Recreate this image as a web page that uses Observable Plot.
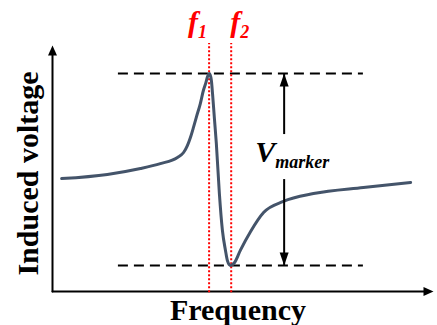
<!DOCTYPE html>
<html><head><meta charset="utf-8">
<script src="https://cdn.jsdelivr.net/npm/d3@7"></script>
<script src="https://cdn.jsdelivr.net/npm/@observablehq/plot@0.6"></script>
<style>body{margin:0;background:#fff}</style>
</head><body><div id="chart"></div>
<script>
// Resonance curve (arbitrary units)
const frequency = [2.4, 14.4, 23.1, 28.3, 32.8, 34.4, 35.4, 36.2, 37.0, 37.8, 38.8, 39.6, 40.2, 40.7, 41.2, 41.7, 42.0, 42.5, 43.0, 43.8, 44.6, 45.4, 45.9, 46.7, 47.8, 49.3, 52.0, 55.4, 60.6, 68.5, 81.6, 94.0];
const voltage   = [45.9, 47.6, 50.0, 52.0, 54.5, 56.5, 59.3, 62.6, 66.7, 71.1, 76.4, 81.7, 84.6, 87.4, 88.6, 85.8, 80.5, 70.3, 60.2, 39.8, 24.8, 16.7, 12.6, 10.6, 11.8, 16.7, 24.4, 32.1, 36.6, 39.8, 42.3, 44.3];
// reference levels (peak / dip) and their horizontal extent
const levels = [88.6, 10.6];
const levelSpan = [17.3, 81.6];
// marker frequencies f1, f2
const markerFreqs = [41.1, 46.9];
const markerSubs = ["1", "2"];
const markerSpan = [-0.5, 100.8];
// V_marker arrow
const vMarkerF = 60.8;
const vMarkerGap = [63.8, 45.5];
// axes extent
const axisMax = [100, 100];
const xLabel = "Frequency";
const yLabel = "Induced voltage";

const curve = frequency.map((f, i) => ({f, v: voltage[i]}));
const serif = "'Liberation Serif','Times New Roman',serif";

const headAxis = {draw(c) { c.moveTo(0, 0); c.lineTo(-4.5, 10); c.lineTo(4.5, 10); c.closePath(); }};
const headV = {draw(c) { c.moveTo(0, 0); c.lineTo(-4.5, 13); c.lineTo(4.5, 13); c.closePath(); }};
const T = (o) => ({fontFamily: serif, fontWeight: "bold", ...o});

const plot = Plot.plot({
  width: 437, height: 325,
  marginLeft: 52, marginRight: 4, marginTop: 45, marginBottom: 34,
  x: {domain: [0, axisMax[0]], axis: null},
  y: {domain: [0, axisMax[1]], axis: null},
  style: {fontFamily: serif, background: "#fff", overflow: "visible"},
  marks: [
    // axes
    Plot.line([[0, 0], [0, axisMax[1] - 2]], {stroke: "#000", strokeWidth: 2}),
    Plot.line([[0, 0], [axisMax[0] - 2, 0]], {stroke: "#000", strokeWidth: 2}),
    Plot.dot([[0, axisMax[1]]], {symbol: headAxis, fill: "#000", stroke: null, r: 4}),
    Plot.dot([[axisMax[0], 0]], {symbol: headAxis, fill: "#000", stroke: null, r: 4, rotate: 90}),
    // dashed levels
    Plot.ruleY(levels, {x1: levelSpan[0], x2: levelSpan[1], stroke: "#000", strokeWidth: 2, strokeDasharray: "10,6"}),
    // red dotted marker lines
    Plot.ruleX(markerFreqs, {y1: markerSpan[0], y2: markerSpan[1], stroke: "#ff0000", strokeWidth: 2, strokeDasharray: "2,2"}),
    // curve
    Plot.line(curve, {x: "f", y: "v", curve: "monotone-x", stroke: "#44546a", strokeWidth: 3}),
    // V_marker double arrow
    Plot.ruleX([vMarkerF], {y1: levels[0], y2: vMarkerGap[0], stroke: "#000", strokeWidth: 2}),
    Plot.ruleX([vMarkerF], {y1: vMarkerGap[1], y2: levels[1], stroke: "#000", strokeWidth: 2}),
    Plot.dot([[vMarkerF, levels[0]]], {symbol: headV, fill: "#000", stroke: null, r: 4}),
    Plot.dot([[vMarkerF, levels[1]]], {symbol: headV, fill: "#000", stroke: null, r: 4, rotate: 180}),
    Plot.text(["V"], T({x: vMarkerF, y: (levels[0] + levels[1]) / 2, textAnchor: "end", lineAnchor: "bottom", dx: -9, dy: -7, fontSize: 30, fontStyle: "italic", fill: "#000"})),
    Plot.text(["marker"], T({x: vMarkerF, y: (levels[0] + levels[1]) / 2, textAnchor: "start", lineAnchor: "bottom", dx: -9, dy: -1, fontSize: 18, fontStyle: "italic", fill: "#000"})),
    // f1 label
    Plot.text(["f"], T({x: markerFreqs[0], frameAnchor: "top", textAnchor: "end", lineAnchor: "bottom", dx: -11, dy: -14, fontSize: 30, fontStyle: "italic", fill: "#ff0000"})),
    Plot.text([markerSubs[0]], T({x: markerFreqs[0], frameAnchor: "top", textAnchor: "start", lineAnchor: "bottom", dx: -11, dy: -8, fontSize: 18, fontStyle: "italic", fill: "#ff0000"})),
    // f2 label
    Plot.text(["f"], T({x: markerFreqs[1], frameAnchor: "top", textAnchor: "end", lineAnchor: "bottom", dx: 9, dy: -14, fontSize: 30, fontStyle: "italic", fill: "#ff0000"})),
    Plot.text([markerSubs[1]], T({x: markerFreqs[1], frameAnchor: "top", textAnchor: "start", lineAnchor: "bottom", dx: 9, dy: -8, fontSize: 18, fontStyle: "italic", fill: "#ff0000"})),
    // axis titles
    Plot.text([xLabel], T({frameAnchor: "bottom", textAnchor: "middle", lineAnchor: "bottom", dx: -5, dy: 28, fontSize: 30, fill: "#000"})),
    Plot.text([yLabel], T({frameAnchor: "left", textAnchor: "middle", lineAnchor: "bottom", rotate: -90, dx: -15, dy: 5, fontSize: 30, fill: "#000"}))
  ]
});
document.getElementById("chart").appendChild(plot);
</script>
</body></html>
